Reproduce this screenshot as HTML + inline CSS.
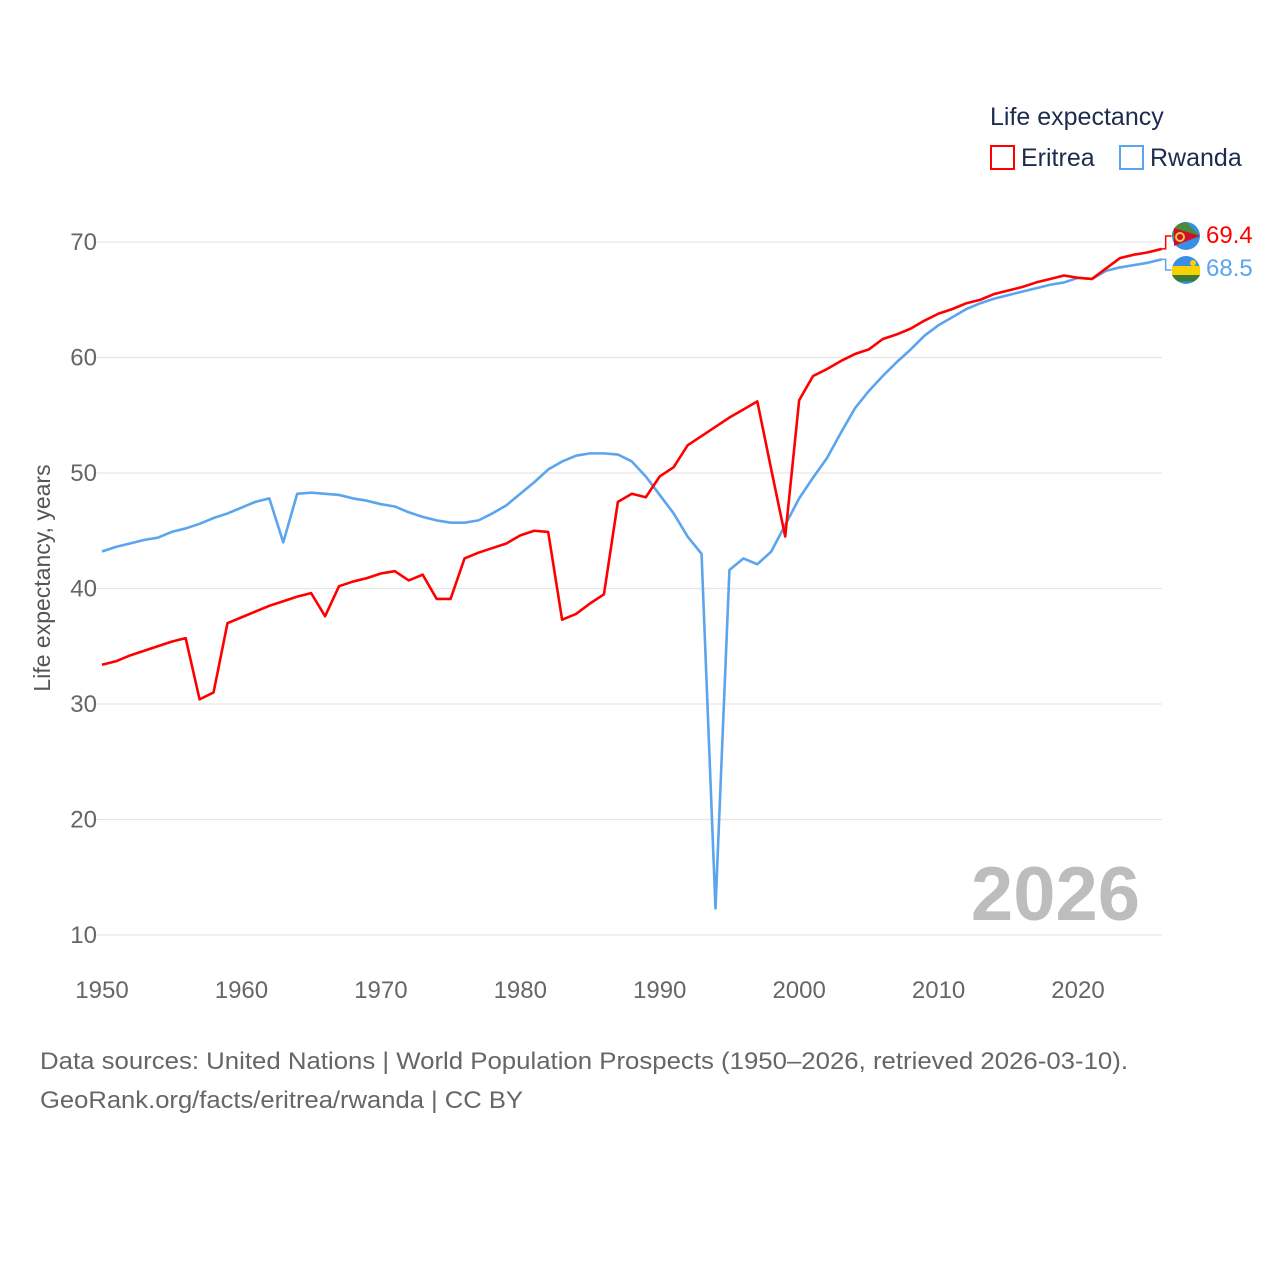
<!DOCTYPE html>
<html><head><meta charset="utf-8"><style>
body{margin:0;background:#fff;font-family:"Liberation Sans",sans-serif}
</style></head><body>
<svg width="1280" height="1280" viewBox="0 0 1280 1280">
<g id="grid"></g>
<g id="yticks"></g>
<g id="xticks"></g>
<text x="50" y="578" transform="rotate(-90 50 578)" text-anchor="middle" font-size="23" fill="#555">Life expectancy, years</text>
<text x="1140" y="920" text-anchor="end" font-size="76" font-weight="bold" fill="#bdbdbd">2026</text>
<g id="lines"></g>
<g>
<text x="990" y="125" font-size="25" fill="#1d2b4f">Life expectancy</text>
<g><rect x="991" y="146" width="23" height="23" fill="none" stroke="#f00" stroke-width="2"/><text x="1021" y="166" font-size="25" fill="#1d2b4f">Eritrea</text></g>
<g><rect x="1120" y="146" width="23" height="23" fill="none" stroke="#5aa5ee" stroke-width="2"/><text x="1150" y="166" font-size="25" fill="#1d2b4f">Rwanda</text></g>
</g>
<g>
<circle cx="1186" cy="236" r="14" fill="#3a8ee6"/>
<path d="M1172 236 A14 14 0 0 1 1186 222 L1200 236 Z" fill="#4a8a3a"/>
<path d="M1174 228 L1200 236 L1174 246 Z" fill="#d0102a"/>
<circle cx="1180" cy="237" r="4" fill="none" stroke="#f5c542" stroke-width="2"/>
<text x="1206" y="243" font-size="24" fill="#f00">69.4</text>
<circle cx="1186" cy="270" r="14" fill="#3a8ee6"/>
<path d="M1172 266 H1200 V275 H1172 Z" fill="#fad201"/>
<path d="M1172 275 H1200 A14 14 0 0 1 1194 281.5 H1178 A14 14 0 0 1 1172 275 Z" fill="#3a7a3a"/>
<circle cx="1193" cy="263" r="3" fill="#fad201"/>
<text x="1206" y="276" font-size="24" fill="#5aa5ee">68.5</text>
</g>
<text x="40" y="1069" font-size="24" fill="#666" textLength="1088" lengthAdjust="spacingAndGlyphs">Data sources: United Nations | World Population Prospects (1950–2026, retrieved 2026-03-10).</text>
<text x="40" y="1108" font-size="24" fill="#666" textLength="483" lengthAdjust="spacingAndGlyphs">GeoRank.org/facts/eritrea/rwanda | CC BY</text>
</svg>
<script>
const years=[];for(let y=1950;y<=2026;y++)years.push(y);
const eritrea=[33.4,33.7,34.2,34.6,35.0,35.4,35.7,30.4,31.0,37.0,37.5,38.0,38.5,38.9,39.3,39.6,37.6,40.2,40.6,40.9,41.3,41.5,40.7,41.2,39.1,39.1,42.6,43.1,43.5,43.9,44.6,45.0,44.9,37.3,37.8,38.7,39.5,47.5,48.2,47.9,49.7,50.5,52.4,53.2,54.0,54.8,55.5,56.2,50.3,44.5,56.3,58.4,59.0,59.7,60.3,60.7,61.6,62.0,62.5,63.2,63.8,64.2,64.7,65.0,65.5,65.8,66.1,66.5,66.8,67.1,66.9,66.8,67.7,68.6,68.9,69.1,69.4];
const rwanda=[43.2,43.6,43.9,44.2,44.4,44.9,45.2,45.6,46.1,46.5,47.0,47.5,47.8,44.0,48.2,48.3,48.2,48.1,47.8,47.6,47.3,47.1,46.6,46.2,45.9,45.7,45.7,45.9,46.5,47.2,48.2,49.2,50.3,51.0,51.5,51.7,51.7,51.6,51.0,49.7,48.1,46.5,44.5,43.0,12.3,41.6,42.6,42.1,43.2,45.5,47.8,49.6,51.3,53.5,55.6,57.1,58.4,59.6,60.7,61.9,62.8,63.5,64.2,64.7,65.1,65.4,65.7,66.0,66.3,66.5,66.9,66.8,67.5,67.8,68.0,68.2,68.5];
const yTicks=[10,20,30,40,50,60,70];
const xTicks=[1950,1960,1970,1980,1990,2000,2010,2020];
const X=y=>102+(y-1950)*976/70;
const Y=v=>935-(v-10)*(935-242)/60;
const NS='http://www.w3.org/2000/svg';
function mk(t,a,p){const e=document.createElementNS(NS,t);for(const k in a)e.setAttribute(k,a[k]);p.appendChild(e);return e;}
const g=document.getElementById('grid'),yt=document.getElementById('yticks'),xt=document.getElementById('xticks'),L=document.getElementById('lines');
yTicks.forEach(v=>{
 const l=mk('line',{x1:96,x2:1162,y1:Y(v),y2:Y(v),stroke:'#e6e6e6','stroke-width':1.3},g);
 
 
 const t=mk('text',{x:97,y:Y(v)+8,'text-anchor':'end','font-size':24,fill:'#666'},yt);t.textContent=v;
 
 
});
xTicks.forEach(v=>{
 const t=mk('text',{x:X(v),y:998,'text-anchor':'middle','font-size':24,fill:'#666'},xt);t.textContent=v;
 
 
});
function line(d,c,n){
 const p=mk('polyline',{points:d.map((v,i)=>X(years[i])+','+Y(v)).join(' '),fill:'none',stroke:c,'stroke-width':2.6,'stroke-linejoin':'round'},L);
 
 
 const lv=d[d.length-1],lx=X(years[years.length-1]);
 const ly=n.startsWith('eritrea')?236:270;
 const c2=mk('polyline',{points:`${lx},${Y(lv)} ${lx+4},${Y(lv)} ${lx+4},${ly} ${lx+10},${ly}`,fill:'none',stroke:c,'stroke-width':1.5},L);
 
 
}
line(rwanda,'#5aa5ee','rwanda-line');
line(eritrea,'#ff0000','eritrea-line');
</script>
</body></html>
